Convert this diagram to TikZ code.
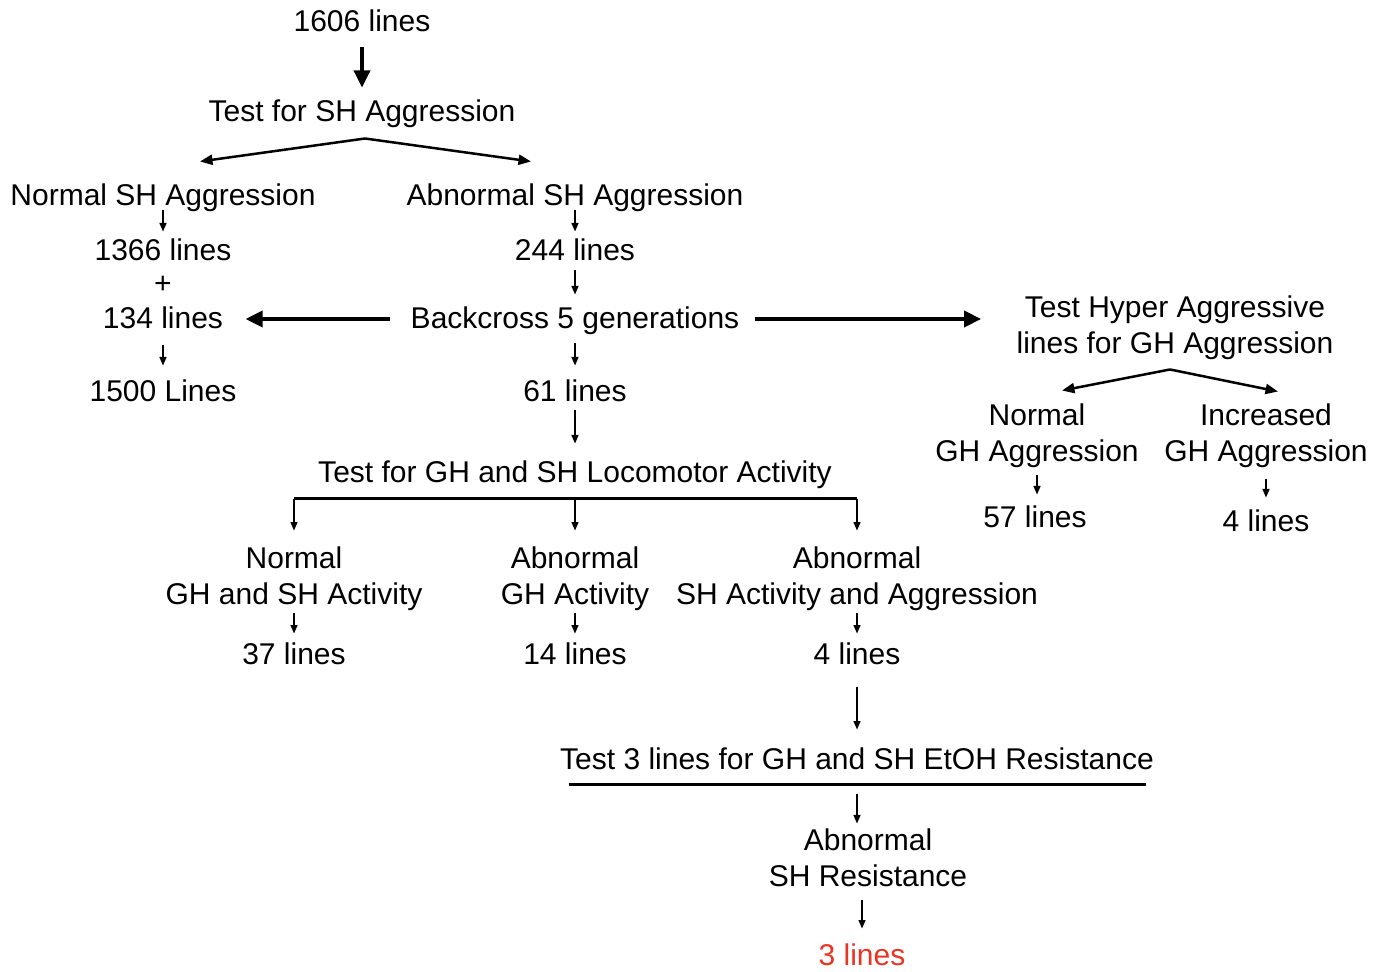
\documentclass[tikz,border=0pt]{standalone}
\usepackage{fontspec}
\setmainfont{Liberation Sans}
\usepackage{tikz}
\usetikzlibrary{arrows.meta, positioning, calc}
\definecolor{linesRed}{RGB}{234, 51, 35}

\begin{document}
\begin{tikzpicture}[x=0.4pt, y=-0.4pt,
    lbl/.style={inner sep=0pt, font=\fontsize{12}{14.4}\selectfont, text height=8.6pt, text depth=1pt},
    lbltwo/.style={inner sep=0pt, font=\fontsize{12}{14.4}\selectfont, align=center},
    arr/.style={line width=0.55pt, -{Triangle[length=3.4pt, width=2.8pt]}},
    bigarr/.style={line width=1.4pt, -{Triangle[length=6.8pt, width=6.4pt]}},
    forkarr/.style={line width=1pt, -{Triangle[length=5pt, width=4pt]}},
    bar/.style={line width=1.2pt}]
    \useasboundingbox (0,0) rectangle (1387,972);

    % Screen for SH aggression
    \node[lbl] (n1606) at (362,22) {1606 lines};
    \node[lbl] (testsh) at (362,112) {Test for SH Aggression};
    \node[lbl] (normsh) at (163,196) {Normal SH Aggression};
    \node[lbl] (abnsh) at (575,196) {Abnormal SH Aggression};

    % Left column
    \node[lbl] (n1366) at (163,251) {1366 lines};
    \node[lbl] (plus) at (163,284) {+};
    \node[lbl] (n134) at (163,319) {134 lines};
    \node[lbl] (n1500) at (163,392) {1500 Lines};

    % Middle column
    \node[lbl] (n244) at (575,251) {244 lines};
    \node[lbl] (back) at (575,319) {Backcross 5 generations};
    \node[lbl] (n61) at (575,392) {61 lines};
    \node[lbl] (loco) at (575,473) {Test for GH and SH Locomotor Activity};

    % Hyper aggressive lines
    \node[lbltwo] (hyper) at (1175,328) {Test Hyper Aggressive\\lines for GH Aggression};
    \node[lbltwo] (normgh) at (1037,436) {Normal\\GH Aggression};
    \node[lbltwo] (incgh) at (1266,436) {Increased\\GH Aggression};
    \node[lbl] (n57) at (1035,518) {57 lines};
    \node[lbl] (n4a) at (1266,522) {4 lines};

    % Locomotor activity outcomes
    \node[lbltwo] (actnorm) at (294,579) {Normal\\GH and SH Activity};
    \node[lbltwo] (actgh) at (575,579) {Abnormal\\GH Activity};
    \node[lbltwo] (actsh) at (857,579) {Abnormal\\SH Activity and Aggression};
    \node[lbl] (n37) at (294,655) {37 lines};
    \node[lbl] (n14) at (575,655) {14 lines};
    \node[lbl] (n4b) at (857,655) {4 lines};

    % EtOH resistance
    \node[lbl] (etoh) at (857,760) {Test 3 lines for GH and SH EtOH Resistance};
    \node[lbltwo] (shres) at (868,858) {Abnormal\\SH Resistance};
    \node[lbl, text=linesRed] (n3) at (862,956) {3 lines};

    % Arrows, top part
    \draw[bigarr, shorten <=5.2pt, shorten >=4.8pt] (n1606) -- (testsh);
    \coordinate (forksh) at ([shift={(3,14)}]testsh.south);
    \draw[forkarr] (forksh) -- ([shift={(37,-22)}]normsh.north);
    \draw[forkarr] (forksh) -- ([shift={(-44,-22)}]abnsh.north);
    \draw[arr, shorten <=0.8pt, shorten >=2.8pt] (normsh) -- (n1366);
    \draw[arr, shorten <=0.8pt, shorten >=2.8pt] (abnsh) -- (n244);
    \draw[arr, shorten <=2.8pt, shorten >=4.8pt] (n244) -- (back);
    \draw[arr, shorten <=4.8pt, shorten >=5.6pt] (back) -- (n61);
    \draw[arr, shorten <=5.6pt, shorten >=5.6pt] (n134) -- (n1500);
    \draw[arr, shorten <=2.4pt, shorten >=6.8pt] (n61) -- (loco);

    % Backcross to both sides
    \draw[bigarr, shorten <=8pt, shorten >=8.8pt] (back.west) -- (back.west -| n134.east);
    \draw[bigarr, shorten <=6pt, shorten >=14pt] (back.east) -- (back.east -| hyper.west);

    % Hyper aggressive split
    \coordinate (forkgh) at ([shift={(-5,9)}]hyper.south);
    \draw[forkarr] (forkgh) -- ([shift={(25,-13)}]normgh.north);
    \draw[forkarr] (forkgh) -- ([shift={(12,-12)}]incgh.north);
    \draw[arr, shorten <=2.8pt, shorten >=4.4pt] (normgh.south) -- (normgh.south |- n57.north);
    \draw[arr, shorten <=4.4pt, shorten >=4.8pt] (incgh) -- (n4a);

    % Locomotor bracket
    \coordinate (locobar) at ([shift={(0,13)}]loco.south);
    \draw[bar] (locobar -| actnorm) -- (locobar -| actsh);
    \foreach \n in {actnorm, actgh, actsh} {
        \draw[arr, shorten >=6.4pt] (locobar -| \n) -- (\n.north);
    }
    \draw[arr, shorten <=0.8pt, shorten >=3.6pt] (actnorm) -- (n37);
    \draw[arr, shorten <=0.8pt, shorten >=3.6pt] (actgh) -- (n14);
    \draw[arr, shorten <=0.8pt, shorten >=3.6pt] (actsh) -- (n4b);

    % EtOH part
    \draw[arr, shorten <=7.6pt, shorten >=7.2pt] (n4b) -- (etoh);
    \draw[bar] ([shift={(9,12)}]etoh.south west) -- ([shift={(-8,12)}]etoh.south east);
    \draw[arr, shorten <=8.4pt, shorten >=2pt] (etoh.south) -- (etoh.south |- shres.north);
    \draw[arr, shorten <=4.8pt, shorten >=6pt] (n3 |- shres.south) -- (n3.north);
\end{tikzpicture}
\end{document}
